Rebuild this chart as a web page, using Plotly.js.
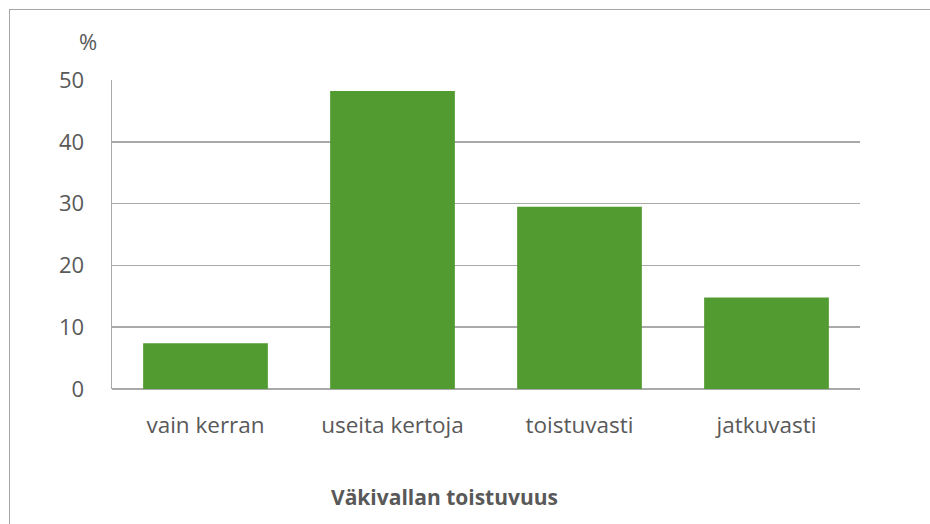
<!DOCTYPE html>
<html>
<head>
<meta charset="utf-8">
<script src="https://cdn.plot.ly/plotly-3.0.1.min.js"></script>
<style>
html,body{margin:0;padding:0;background:#fff;}
#wrap{position:relative;width:930px;height:524px;overflow:hidden;}
#frame{position:absolute;left:9px;top:9px;width:940px;height:540px;border-left:1.5px solid #a6a6a6;border-top:1.5px solid #a6a6a6;box-sizing:border-box;pointer-events:none;}
#chart{position:absolute;left:0;top:0;width:930px;height:524px;}
</style>
</head>
<body>
<div id="wrap">
<div id="chart"></div>
<div id="frame"></div>
</div>
<script>
const categories = ["vain kerran", "useita kertoja", "toistuvasti", "jatkuvasti"];
const values = [7.4, 48.2, 29.5, 14.8];
const yTicks = [0, 10, 20, 30, 40, 50];
const xTitle = "Väkivallan toistuvuus";
const yUnit = "%";

const font = "Open Sans, Liberation Sans, sans-serif";
const textColor = "#595959";

const trace = {
  type: "bar",
  x: categories,
  y: values,
  marker: {color: "#529b30", line: {width: 0}},
  hoverinfo: "x+y"
};

const layout = {
  width: 930,
  height: 524,
  margin: {l: 112, r: 70, t: 80, b: 135},
  paper_bgcolor: "#ffffff",
  plot_bgcolor: "#ffffff",
  bargap: 0.333,
  showlegend: false,
  font: {family: font, color: textColor},
  xaxis: {
    type: "category",
    showgrid: false,
    zeroline: false,
    showline: false,
    ticks: "",
    tickfont: {size: 22.5, color: textColor, family: font},
    ticklabelstandoff: 20
  },
  yaxis: {
    range: [0, 50],
    tickvals: yTicks,
    ticktext: yTicks.map(String),
    showgrid: true,
    gridcolor: "#a9a9a9",
    gridwidth: 1.5,
    zeroline: true,
    zerolinecolor: "#a9a9a9",
    zerolinewidth: 1.5,
    showline: true,
    linecolor: "#a9a9a9",
    linewidth: 1.5,
    ticks: "",
    tickfont: {size: 22, color: textColor, family: font},
    ticklabelstandoff: 22
  },
  annotations: [
    {
      text: yUnit, xref: "paper", yref: "paper",
      x: -0.032, y: 1.125, xanchor: "center", yanchor: "middle",
      showarrow: false, font: {size: 22, color: textColor, family: font}
    },
    {
      text: "<b>" + xTitle + "</b>", xref: "paper", yref: "paper",
      x: 0.445, y: -0.35, xanchor: "center", yanchor: "middle",
      showarrow: false, font: {size: 21, color: textColor, family: font}
    }
  ]
};

Plotly.newPlot("chart", [trace], layout, {displayModeBar: false, staticPlot: true});
</script>
</body>
</html>
